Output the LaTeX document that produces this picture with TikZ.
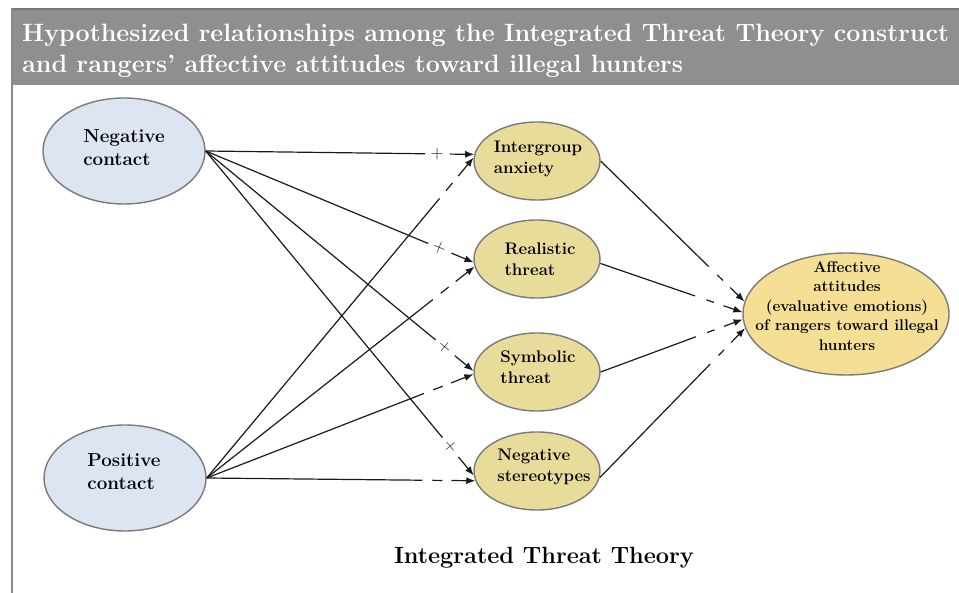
\documentclass[tikz,border=0pt]{standalone}
\usetikzlibrary{shapes.geometric,arrows.meta,calc}
\definecolor{bandgray}{HTML}{8F8F8F}
\definecolor{bandedge}{HTML}{777777}
\definecolor{framegray}{HTML}{8A8A8A}
\definecolor{contactblue}{HTML}{DDE5F3}
\definecolor{ittyellow}{HTML}{E8DC9B}
\definecolor{affyellow}{HTML}{F4DF95}
\definecolor{rimgray}{HTML}{7A7A7A}
\definecolor{ink}{HTML}{1A1A1A}
\newcommand{\plusarrow}[3]{%
  \draw[edge] (#1) -- ($(#2)!49pt!(#1)$);
  \path ($(#2)!31pt!(#1)$) -- ($(#2)!43pt!(#1)$) node[midway, sloped, signmark] (#3) {+};
  \draw[tip] ($(#2)!24pt!(#1)$) -- (#2);
}
\newcommand{\minusarrow}[6]{%
  \draw[edge] (#1) -- ($(#2)!#3!(#1)$);
  \draw[edge] ($(#2)!#4!(#1)$) -- ($(#2)!#5!(#1)$);
  \draw[tip] ($(#2)!#6!(#1)$) -- (#2);
}
\begin{document}
\begin{tikzpicture}[x=1pt,y=-1pt,
  oval/.style={ellipse, draw=rimgray, line width=1.4pt, inner sep=0pt},
  contact/.style={oval, fill=contactblue, minimum width=162pt, minimum height=106pt},
  itt/.style={oval, fill=ittyellow, minimum width=126pt, minimum height=78pt},
  affoval/.style={oval, fill=affyellow, minimum width=206pt, minimum height=122pt},
  bigtext/.style={font=\bfseries\fontsize{18.8}{23}\selectfont, align=left, inner sep=0pt},
  midtext/.style={font=\bfseries\fontsize{16.8}{20.5}\selectfont, align=left, inner sep=0pt},
  afftext/.style={font=\bfseries\fontsize{15.4}{19.5}\selectfont, align=center, inner sep=0pt},
  titletext/.style={font=\bfseries\fontsize{25.1}{30}\selectfont, text=white, inner sep=0pt, anchor=base west},
  edge/.style={draw=ink, line width=1.2pt},
  tip/.style={edge, -{Latex[length=9pt,width=7pt]}},
  signmark/.style={font=\fontsize{18}{18}\selectfont, inner sep=0pt, text=ink}
]
\useasboundingbox (0,0) rectangle (959,593);
\fill[white] (0,0) rectangle (959,593);
% title band and frame
\fill[bandgray] (11,9) rectangle (959,85);
\draw[bandedge, line width=2pt] (11,9) -- (959,9);
\draw[framegray, line width=2pt] (12,8) -- (12,593);
\node[titletext] (title1) at (22,42) {Hypothesized relationships among the Integrated Threat Theory construct};
\node[titletext] (title2) at (22,73) {and rangers’ affective attitudes toward illegal hunters};

% nodes
\node[contact] (neg) at (124,151) {};
\node[bigtext] (negt) at (124,148) {Negative\\contact};
\node[contact] (pos) at (125,478) {};
\node[bigtext] (post) at (124,472) {Positive\\contact};

\node[itt] (ia) at (537,161) {};
\node[midtext] (iat) at (538,159) {Intergroup\\anxiety};
\node[itt] (rt) at (537,259) {};
\node[midtext] (rtt) at (540,259) {Realistic\\threat};
\node[itt] (st) at (537,372) {};
\node[midtext] (stt) at (538,367) {Symbolic\\threat};
\node[itt] (ns) at (537,471) {};
\node[midtext] (nst) at (544,467) {Negative\\stereotypes};

\node[affoval] (af) at (846,314) {};
\node[afftext] (aft) at (847,306) {Affective\\attitudes\\(evaluative emotions)\\of rangers toward illegal\\hunters};

% negative contact edges
\plusarrow{neg.east}{ia.174}{m1}
\plusarrow{neg.east}{rt.183}{m2}
\plusarrow{neg.east}{st.179}{m3}
\plusarrow{neg.east}{ns.184}{m4}
% positive contact edges
\minusarrow{pos.east}{ia.177}{53pt}{43pt}{33pt}{24pt}
\minusarrow{pos.east}{rt.187}{53pt}{43pt}{33pt}{24pt}
\minusarrow{pos.east}{st.182}{53pt}{43pt}{33pt}{24pt}
\minusarrow{pos.east}{ns.189}{53pt}{43pt}{33pt}{24pt}
% to affective attitudes
\minusarrow{ia.east}{af.173}{50pt}{38pt}{30pt}{20pt}
\minusarrow{rt.356}{af.179}{50pt}{38pt}{30pt}{20pt}
\minusarrow{st.east}{af.183}{50pt}{38pt}{30pt}{20pt}
\minusarrow{ns.354}{af.188}{50pt}{38pt}{30pt}{20pt}

\node[font=\bfseries\fontsize{23.5}{28}\selectfont, inner sep=0pt, anchor=base] (ittlabel) at (544,563) {Integrated Threat Theory};
\end{tikzpicture}
\end{document}
